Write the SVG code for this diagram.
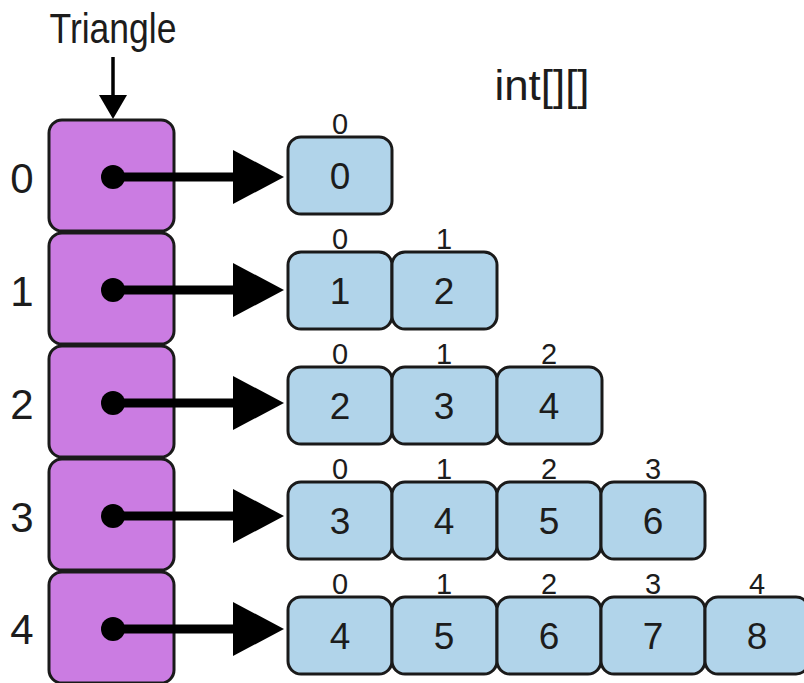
<svg xmlns="http://www.w3.org/2000/svg" width="804" height="683" viewBox="0 0 804 683">
  <style>
    text { font-family: "Liberation Sans", "DejaVu Sans", sans-serif; fill: #1c1c1c; text-anchor: middle; }
    .title { font-size: 42px; }
    .rowlbl { font-size: 42px; }
    .idx { font-size: 29px; }
    .val { font-size: 37px; }
    .ref { fill: #cb7ce2; stroke: #1a1a1a; stroke-width: 3; }
    .cell { fill: #b1d4ea; stroke: #1a1a1a; stroke-width: 3; }
    .ptr { stroke: #000; stroke-width: 9; fill: none; }
    .dot { fill: #000; }
    .head { fill: #000; }
  </style>

  <!-- variable name and type -->
  <g id="label-triangle">
    <text class="title" x="113" y="43" textLength="127" lengthAdjust="spacingAndGlyphs">Triangle</text>
  </g>
  <g id="label-type">
    <text class="title" x="542" y="100" textLength="95" lengthAdjust="spacingAndGlyphs">int[][]</text>
  </g>

  <!-- outer array of references -->
  <g id="outer">
    <g id="outer-0"><rect class="ref" x="49" y="120" width="125" height="111" rx="13"/><text class="rowlbl" x="22" y="193">0</text></g>
    <g id="outer-1"><rect class="ref" x="49" y="233" width="125" height="111" rx="13"/><text class="rowlbl" x="22" y="306">1</text></g>
    <g id="outer-2"><rect class="ref" x="49" y="346" width="125" height="111" rx="13"/><text class="rowlbl" x="22" y="419">2</text></g>
    <g id="outer-3"><rect class="ref" x="49" y="459" width="125" height="111" rx="13"/><text class="rowlbl" x="22" y="532">3</text></g>
    <g id="outer-4"><rect class="ref" x="49" y="572" width="125" height="111" rx="13"/><text class="rowlbl" x="22" y="644">4</text></g>
  </g>

  <!-- inner rows -->
  <g id="row-0">
    <rect class="cell" x="288" y="137" width="104" height="77" rx="13"/>
    <text class="idx" x="340" y="134">0</text><text class="val" x="340" y="189">0</text>
  </g>
  <g id="row-1">
    <rect class="cell" x="288" y="252" width="104" height="77" rx="13"/>
    <rect class="cell" x="392" y="252" width="105" height="77" rx="13"/>
    <text class="idx" x="340" y="249">0</text><text class="val" x="340" y="304">1</text>
    <text class="idx" x="444" y="249">1</text><text class="val" x="444" y="304">2</text>
  </g>
  <g id="row-2">
    <rect class="cell" x="288" y="367" width="104" height="77" rx="13"/>
    <rect class="cell" x="392" y="367" width="105" height="77" rx="13"/>
    <rect class="cell" x="497" y="367" width="105" height="77" rx="13"/>
    <text class="idx" x="340" y="364">0</text><text class="val" x="340" y="419">2</text>
    <text class="idx" x="444" y="364">1</text><text class="val" x="444" y="419">3</text>
    <text class="idx" x="549" y="364">2</text><text class="val" x="549" y="419">4</text>
  </g>
  <g id="row-3">
    <rect class="cell" x="288" y="482" width="104" height="77" rx="13"/>
    <rect class="cell" x="392" y="482" width="105" height="77" rx="13"/>
    <rect class="cell" x="497" y="482" width="104" height="77" rx="13"/>
    <rect class="cell" x="601" y="482" width="104" height="77" rx="13"/>
    <text class="idx" x="340" y="479">0</text><text class="val" x="340" y="534">3</text>
    <text class="idx" x="444" y="479">1</text><text class="val" x="444" y="534">4</text>
    <text class="idx" x="549" y="479">2</text><text class="val" x="549" y="534">5</text>
    <text class="idx" x="653" y="479">3</text><text class="val" x="653" y="534">6</text>
  </g>
  <g id="row-4">
    <rect class="cell" x="288" y="597" width="104" height="77" rx="13"/>
    <rect class="cell" x="392" y="597" width="105" height="77" rx="13"/>
    <rect class="cell" x="497" y="597" width="104" height="77" rx="13"/>
    <rect class="cell" x="601" y="597" width="104" height="77" rx="13"/>
    <rect class="cell" x="705" y="597" width="104" height="77" rx="13"/>
    <text class="idx" x="340" y="594">0</text><text class="val" x="340" y="649">4</text>
    <text class="idx" x="444" y="594">1</text><text class="val" x="444" y="649">5</text>
    <text class="idx" x="549" y="594">2</text><text class="val" x="549" y="649">6</text>
    <text class="idx" x="653" y="594">3</text><text class="val" x="653" y="649">7</text>
    <text class="idx" x="757" y="594">4</text><text class="val" x="757" y="649">8</text>
  </g>

  <!-- pointers -->
  <g id="connectors">
    <g id="ptr-name"><line x1="113" y1="57" x2="113" y2="100" stroke="#000" stroke-width="3.5"/><path class="head" d="M99 95 L127 95 L113 119 Z"/></g>
    <g id="ptr-0"><circle class="dot" cx="113" cy="177" r="12"/><line class="ptr" x1="113" y1="177" x2="236" y2="177"/><path class="head" d="M233 150 L284 177 L233 204 Z"/></g>
    <g id="ptr-1"><circle class="dot" cx="113" cy="290" r="12"/><line class="ptr" x1="113" y1="290" x2="236" y2="290"/><path class="head" d="M233 263 L284 290 L233 317 Z"/></g>
    <g id="ptr-2"><circle class="dot" cx="113" cy="403" r="12"/><line class="ptr" x1="113" y1="403" x2="236" y2="403"/><path class="head" d="M233 376 L284 403 L233 430 Z"/></g>
    <g id="ptr-3"><circle class="dot" cx="113" cy="516" r="12"/><line class="ptr" x1="113" y1="516" x2="236" y2="516"/><path class="head" d="M233 489 L284 516 L233 543 Z"/></g>
    <g id="ptr-4"><circle class="dot" cx="113" cy="629" r="12"/><line class="ptr" x1="113" y1="629" x2="236" y2="629"/><path class="head" d="M233 602 L284 629 L233 656 Z"/></g>
  </g>
</svg>
